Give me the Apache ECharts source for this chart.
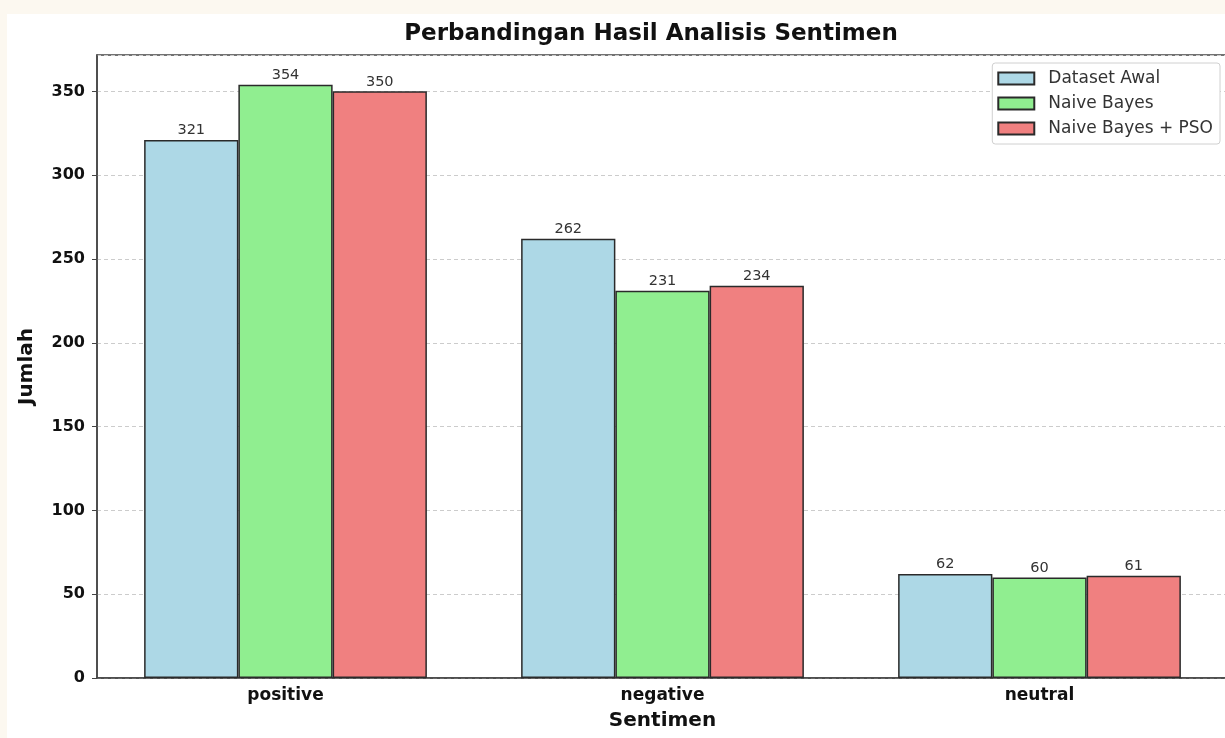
<!DOCTYPE html>
<html>
<head>
<meta charset="utf-8">
<script src="https://cdn.jsdelivr.net/npm/echarts@6/dist/echarts.min.js"></script>
<style>
html,body{margin:0;padding:0;background:#fcf8f0;overflow:hidden;}
#chart{width:1236px;height:738px;}
</style>
</head>
<body>
<div id="chart"></div>
<script>
const categories = ['positive', 'negative', 'neutral'];
const seriesNames = ['Dataset Awal', 'Naive Bayes', 'Naive Bayes + PSO'];
const datasetAwal = [321, 262, 62];
const naiveBayes = [354, 231, 60];
const naiveBayesPSO = [350, 234, 61];
const yTicks = [0, 50, 100, 150, 200, 250, 300, 350];

const colors = ['#ADD8E6', '#90EE90', '#F08080'];
const values = [datasetAwal, naiveBayes, naiveBayesPSO];
const FONT = 'DejaVu Sans';

const chart = echarts.init(document.getElementById('chart'), null, {renderer: 'canvas'});
const option = {
  backgroundColor: 'transparent',
  animation: false,
  textStyle: {fontFamily: FONT},
  graphic: [{
    type: 'rect', z: -10, silent: true,
    shape: {x: 7, y: 14, width: 1229, height: 724},
    style: {fill: '#ffffff'}
  }],
  title: {
    text: 'Perbandingan Hasil Analisis Sentimen',
    left: 651, top: 23, textAlign: 'center', padding: 0,
    textStyle: {fontFamily: FONT, fontSize: 23, fontWeight: 'bold', color: '#111'}
  },
  legend: {
    orient: 'vertical',
    right: 16, top: 63,
    itemWidth: 36, itemHeight: 12, itemGap: 8,
    padding: [7, 7, 7, 5],
    backgroundColor: '#fff',
    borderColor: '#d0d0d0', borderWidth: 1, borderRadius: 3,
    icon: 'rect',
    textStyle: {fontFamily: FONT, fontSize: 17, color: '#333', lineHeight: 17, padding: [0, 0, 0, 9]},
    data: seriesNames
  },
  grid: {
    left: 97, top: 55, width: 1131, bottom: 60,
    show: true, borderColor: '#444', borderWidth: 1.5,
    containLabel: false
  },
  xAxis: {
    type: 'category',
    data: categories,
    name: 'Sentimen', nameLocation: 'middle', nameGap: 33,
    nameTextStyle: {fontFamily: FONT, fontSize: 20, fontWeight: 'bold', color: '#111'},
    axisLine: {lineStyle: {color: '#444', width: 1.5}},
    axisTick: {alignWithLabel: true, length: 5, lineStyle: {color: '#444'}},
    axisLabel: {fontFamily: FONT, fontSize: 17, fontWeight: 'bold', color: '#111', margin: 9}
  },
  yAxis: {
    type: 'value',
    min: 0, max: 371.7, interval: 50,
    name: 'Jumlah', nameLocation: 'middle', nameGap: 60,
    nameTextStyle: {fontFamily: FONT, fontSize: 20, fontWeight: 'bold', color: '#111'},
    axisLine: {show: true, lineStyle: {color: '#444', width: 1.5}},
    axisTick: {show: true, length: 5, lineStyle: {color: '#444'}},
    axisLabel: {
      fontFamily: FONT, fontSize: 16, fontWeight: 'bold', color: '#111', margin: 12,
      showMaxLabel: false,
      formatter: v => (yTicks.indexOf(v) >= 0 ? String(v) : '')
    },
    splitLine: {show: true, lineStyle: {color: '#cccccc', type: [4, 3], width: 1}}
  },
  series: seriesNames.map((name, i) => ({
    name: name,
    type: 'bar',
    data: values[i],
    barWidth: '25%',
    barGap: '0%',
    itemStyle: {color: colors[i], borderColor: '#2a2a2a', borderWidth: 1.5},
    label: {
      show: true, position: 'top', distance: 2,
      fontFamily: FONT, fontSize: 14.5, color: '#333'
    }
  }))
};
chart.setOption(option);
</script>
</body>
</html>
